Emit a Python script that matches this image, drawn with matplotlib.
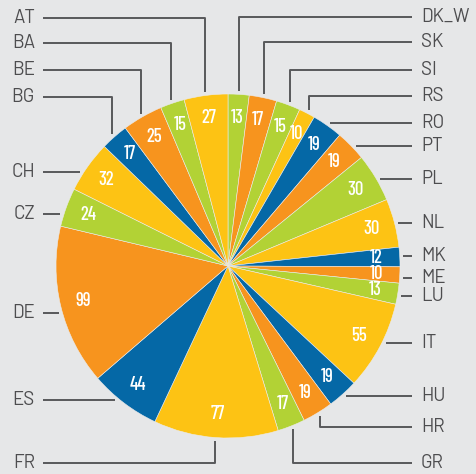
import numpy as np
import matplotlib
matplotlib.use('Agg')
import matplotlib.pyplot as plt

# data, clockwise from 12 o'clock
countries = ['DK_W', 'SK', 'SI', 'RS', 'RO', 'PT', 'PL', 'NL', 'MK', 'ME', 'LU', 'IT',
             'HU', 'HR', 'GR', 'FR', 'ES', 'DE', 'CZ', 'CH', 'BG', 'BE', 'BA', 'AT']
values = [13, 17, 15, 10, 19, 19, 30, 30, 12, 10, 13, 55,
          19, 19, 17, 77, 44, 99, 24, 32, 17, 25, 15, 27]

GREEN, ORANGE, YELLOW, BLUE = '#b2d235', '#f7941e', '#fdc314', '#0568a6'
colors = [GREEN, ORANGE, GREEN, YELLOW, BLUE, ORANGE, GREEN, YELLOW, BLUE, ORANGE, GREEN, YELLOW,
          BLUE, ORANGE, GREEN, YELLOW, BLUE, ORANGE, GREEN, YELLOW, BLUE, ORANGE, GREEN, YELLOW]

# label layout: side, y (pixels from top), leader type (h = horizontal, v = elbow)
label_layout = {
    'DK_W': ('r', 17, 'v'), 'SK': ('r', 42, 'v'), 'SI': ('r', 70, 'v'), 'RS': ('r', 96, 'v'),
    'RO': ('r', 123, 'h'), 'PT': ('r', 146, 'h'), 'PL': ('r', 179, 'h'), 'NL': ('r', 223, 'h'),
    'MK': ('r', 256, 'h'), 'ME': ('r', 278, 'h'), 'LU': ('r', 296, 'h'), 'IT': ('r', 343, 'h'),
    'HU': ('r', 396, 'h'), 'HR': ('r', 427, 'v'), 'GR': ('r', 463, 'v'),
    'AT': ('l', 18, 'v'), 'BA': ('l', 43, 'v'), 'BE': ('l', 70, 'v'), 'BG': ('l', 97, 'v'),
    'CH': ('l', 172, 'h'), 'CZ': ('l', 214, 'h'), 'DE': ('l', 313, 'h'), 'ES': ('l', 400, 'h'),
    'FR': ('l', 463, 'v'),
}

W, H = 477, 474
cx, cy, r = 228, H - 266, 172
R = r + 3.5  # leader line end radius

fig = plt.figure(figsize=(W / 100, H / 100), dpi=100, facecolor='#e6e7e8')
ax = fig.add_axes([0, 0, 1, 1])
ax.set_facecolor('#e6e7e8')

wedges, texts = ax.pie(values, colors=colors, startangle=90, counterclock=False,
                       center=(cx, cy), radius=r, labels=[str(v) for v in values],
                       labeldistance=0.865, frame=True,
                       textprops=dict(color='white', fontsize=13.5,
                                      family=['Barlow Condensed', 'DejaVu Sans'],
                                      fontweight='medium', va='center'),
                       wedgeprops=dict(linewidth=0.4, edgecolor='#ececec'))
for t in texts:
    t.set_horizontalalignment('center')

ax.set_xlim(0, W)
ax.set_ylim(0, H)
ax.set_aspect('equal')
ax.axis('off')

line_kw = dict(color='#58595b', lw=1.4, solid_capstyle='butt')
for w, name in zip(wedges, countries):
    side, ytop, kind = label_layout[name]
    y = H - ytop
    mid = np.deg2rad((w.theta1 + w.theta2) / 2)
    if side == 'r':
        x_lab, x_line = 421, 412
        ha = 'left'
    else:
        x_lab, x_line = 35, 43
        ha = 'right'
    if kind == 'v':
        xe = cx + R * np.cos(mid)
        ye = cy + R * np.sin(mid)
        ax.plot([x_line, xe, xe], [y, y, ye], **line_kw)
    else:
        dx = np.sqrt(max(R ** 2 - (y - cy) ** 2, 0))
        xe = cx + dx if side == 'r' else cx - dx
        ax.plot([x_line, xe], [y, y], **line_kw)
    ax.text(x_lab, y, name, ha=ha, va='center', fontsize=13.5, color='#4d4d4f',
            family=['Barlow', 'DejaVu Sans'])

fig.savefig('out.png', dpi=100, facecolor=fig.get_facecolor())
